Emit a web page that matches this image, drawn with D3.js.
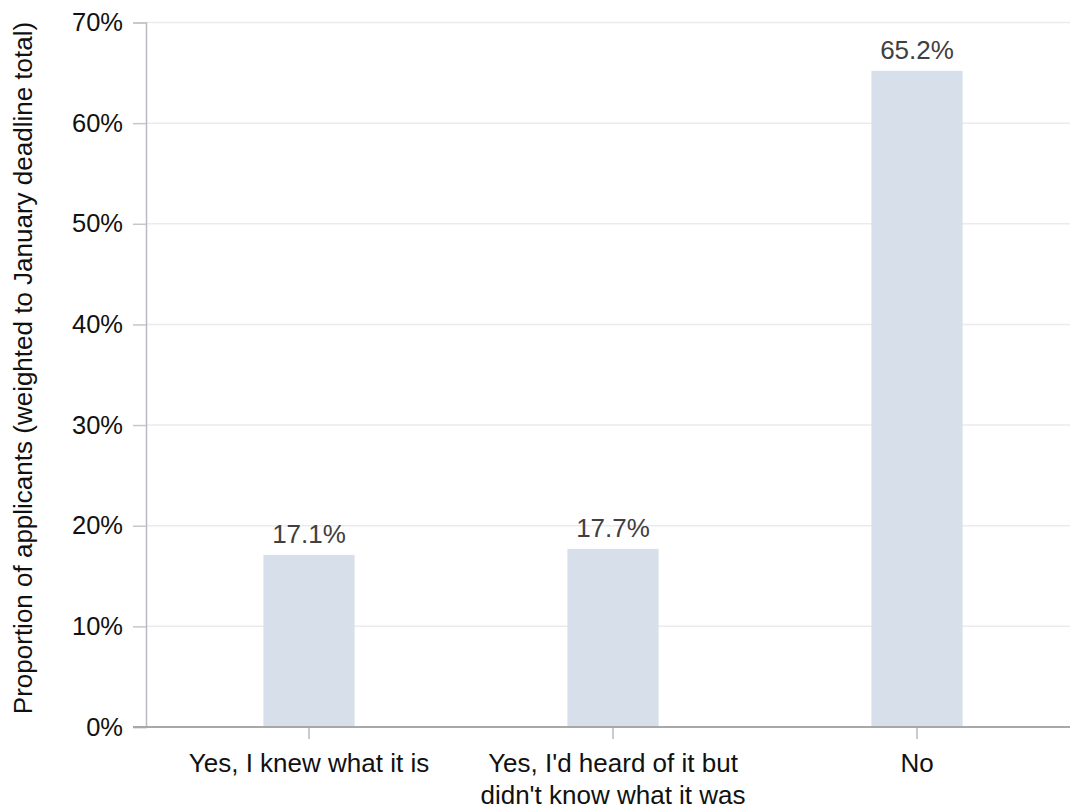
<!DOCTYPE html>
<html>
<head>
<meta charset="utf-8">
<script src="https://cdn.jsdelivr.net/npm/d3@7"></script>
<style>
  body { margin: 0; background: #fff; }
  svg text { font-family: "Liberation Sans", Arial, sans-serif; }
</style>
</head>
<body>
<div id="container"></div>
<script>

var categories = ["Yes, I knew what it is", "Yes, I'd heard of it but\ndidn't know what it was", "No"];

var values = [17.1, 17.7, 65.2];

var yTicks = [0, 10, 20, 30, 40, 50, 60, 70];

var yTitle = "Proportion of applicants (weighted to January deadline total)";

var width = 1070;
var height = 810;

var plotLeft = 146, plotRight = 1070, plotTop = 22.5, plotBottom = 727;

var barColor = "#d7dfeb";

var svg = d3.select("#container")
    .append("svg")
    .attr("width", width)
    .attr("height", height);

var x = d3.scaleBand()
    .domain(categories)
    .range([157, 1069])
    .paddingInner(0.7)
    .paddingOuter(0.35);

var y = d3.scaleLinear()
    .domain([0, 70])
    .range([plotBottom, plotTop]);

//  gridlines
svg.append("g")
    .selectAll("line")
    .data(yTicks.slice(1))
    .enter()
    .append("line")
    .attr("x1", plotLeft)
    .attr("x2", plotRight)
    .attr("y1", function(d) { return y(d); })
    .attr("y2", function(d) { return y(d); })
    .attr("stroke", "#ebebeb")
    .attr("stroke-width", 1.5);

//  bars
svg.selectAll(".bar")
    .data(values)
    .enter()
    .append("rect")
    .attr("class", "bar")
    .attr("x", function(d, i) { return x(categories[i]); })
    .attr("width", x.bandwidth())
    .attr("y", function(d) { return y(d); })
    .attr("height", function(d) { return y(0) - y(d); })
    .attr("fill", barColor);

//  value labels
svg.selectAll(".value-label")
    .data(values)
    .enter()
    .append("text")
    .attr("class", "value-label")
    .attr("x", function(d, i) { return x(categories[i]) + x.bandwidth() / 2; })
    .attr("y", function(d) { return y(d) - 12; })
    .attr("text-anchor", "middle")
    .attr("font-size", "26px")
    .attr("fill", "#404040")
    .text(function(d) { return d.toFixed(1) + "%"; });

//  y axis
var yAxis = svg.append("g")
    .attr("class", "axis-left")
    .attr("transform", "translate(" + plotLeft + ",0)")
    .call(d3.axisLeft(y).tickValues(yTicks).tickSize(13).tickPadding(10)
        .tickFormat(function(d) { return d + "%"; }));

yAxis.select(".domain").attr("stroke", "#b8bcc0").attr("stroke-width", 1.5);
yAxis.selectAll(".tick line").attr("stroke", "#c4c8cc").attr("stroke-width", 1.5);
yAxis.selectAll(".tick text")
    .attr("font-size", "25.5px")
    .attr("fill", "#111")
    .attr("font-family", "Liberation Sans, Arial, sans-serif");

//  x axis
var xAxis = svg.append("g")
    .attr("class", "axis-bottom")
    .attr("transform", "translate(0," + plotBottom + ")")
    .call(d3.axisBottom(x).tickSize(12).tickSizeOuter(0).tickFormat(""));

xAxis.select(".domain").remove();
xAxis.selectAll(".tick line").attr("stroke", "#b8bcc0").attr("stroke-width", 1.5);

xAxis.append("line")
    .attr("x1", plotLeft - 13)
    .attr("x2", plotRight)
    .attr("stroke", "#a8a8a8")
    .attr("stroke-width", 2);

xAxis.selectAll(".tick")
    .append("text")
    .attr("text-anchor", "middle")
    .attr("font-size", "26px")
    .attr("fill", "#111")
    .attr("font-family", "Liberation Sans, Arial, sans-serif")
    .each(function(d) {
        var lines = d.split("\n");
        var t = d3.select(this);
        lines.forEach(function(line, i) {
            t.append("tspan")
                .attr("x", 0)
                .attr("y", 45 + i * 32)
                .text(line);
        });
    });

//  y title
svg.append("text")
    .attr("transform", "translate(32,368) rotate(-90)")
    .attr("text-anchor", "middle")
    .attr("font-size", "26px")
    .attr("fill", "#111")
    .text(yTitle);

</script>
</body>
</html>
